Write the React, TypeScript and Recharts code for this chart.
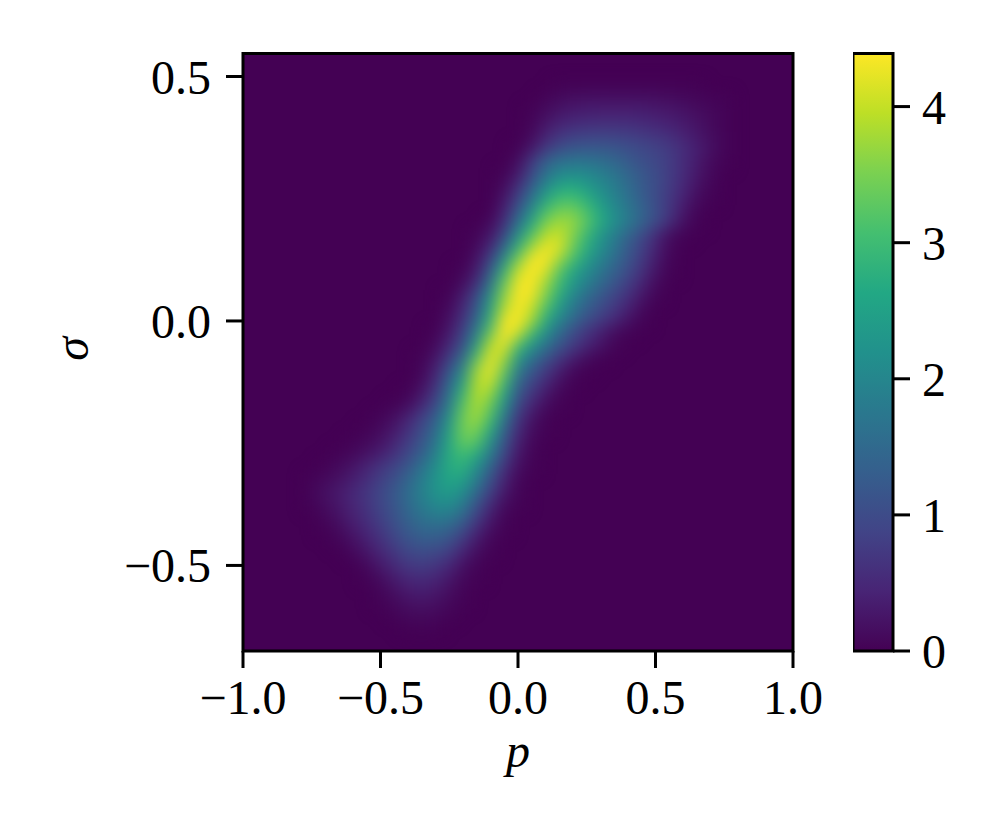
import React from "react";
import { ScatterChart, Scatter, XAxis, YAxis, ReferenceArea, BarChart, Bar } from "recharts";

const xTicks = [-1, -0.5, 0, 0.5, 1];
const yTicks = [-0.5, 0, 0.5];
const barTicks = [0, 1, 2, 3, 4];
const barTop = 4.39;
const viridis = ["#440154", "#482475", "#414487", "#355f8d", "#2a788e", "#21918c", "#22a884", "#44bf70", "#7ad151", "#bddf26", "#fde725"];

const rowSigma = [0.475, 0.45, 0.425, 0.4, 0.375, 0.35, 0.325, 0.3, 0.275, 0.25, 0.225, 0.2, 0.175, 0.15, 0.125, 0.1, 0.075, 0.05, 0.025, 0, -0.025, -0.05, -0.075, -0.1, -0.125, -0.15, -0.175, -0.2, -0.225, -0.25, -0.275, -0.3, -0.325, -0.35, -0.375, -0.4, -0.425, -0.45, -0.475, -0.5, -0.525, -0.55, -0.575, -0.6, -0.625];
const rowStartP = [0.15, 0.1, 0.05, 0.05, 0.05, 0, 0, -0.05, -0.05, -0.05, -0.05, -0.1, -0.15, -0.15, -0.15, -0.2, -0.2, -0.25, -0.25, -0.25, -0.3, -0.3, -0.35, -0.35, -0.35, -0.4, -0.45, -0.5, -0.55, -0.6, -0.65, -0.7, -0.75, -0.75, -0.75, -0.7, -0.7, -0.65, -0.6, -0.55, -0.55, -0.5, -0.5, -0.45, -0.4];
const densityRows = [
  [0.02, 0.04, 0.05, 0.05, 0.05, 0.05, 0.05, 0.05, 0.04, 0.03, 0.02],
  [0.06, 0.14, 0.2, 0.22, 0.22, 0.22, 0.22, 0.22, 0.2, 0.17, 0.13, 0.08, 0.05, 0.02],
  [0.02, 0.14, 0.26, 0.34, 0.38, 0.4, 0.4, 0.4, 0.38, 0.34, 0.3, 0.24, 0.17, 0.1, 0.04],
  [0.05, 0.28, 0.45, 0.55, 0.6, 0.62, 0.62, 0.6, 0.55, 0.5, 0.42, 0.33, 0.22, 0.12, 0.04],
  [0.12, 0.45, 0.72, 0.85, 0.9, 0.92, 0.9, 0.85, 0.78, 0.7, 0.6, 0.45, 0.3, 0.16, 0.05],
  [0.02, 0.3, 0.75, 1.05, 1.2, 1.25, 1.25, 1.2, 1.08, 0.98, 0.88, 0.75, 0.58, 0.38, 0.2, 0.05],
  [0.15, 0.75, 1.35, 1.65, 1.7, 1.7, 1.6, 1.45, 1.25, 1.05, 0.95, 0.78, 0.55, 0.32, 0.12, 0.02],
  [0.03, 0.3, 0.95, 1.6, 2.0, 2.1, 2.05, 1.9, 1.7, 1.45, 1.2, 1.02, 0.78, 0.55, 0.3, 0.1],
  [0.12, 0.6, 1.3, 2.05, 2.55, 2.65, 2.4, 2.1, 1.85, 1.55, 1.25, 1.02, 0.78, 0.5, 0.22, 0.05],
  [0.25, 0.85, 1.65, 2.5, 3.0, 3.05, 2.75, 2.3, 1.95, 1.65, 1.3, 1.0, 0.72, 0.42, 0.15, 0.02],
  [0.42, 1.2, 2.1, 3.05, 3.45, 3.45, 3.1, 2.6, 2.1, 1.75, 1.4, 1.08, 0.7, 0.3, 0.05],
  [0.1, 0.6, 1.6, 2.6, 3.5, 3.8, 3.7, 3.25, 2.7, 2.2, 1.8, 1.4, 1.0, 0.6, 0.2, 0.02],
  [0.05, 0.25, 0.95, 2.15, 3.15, 3.9, 4.05, 3.55, 2.9, 2.3, 1.85, 1.4, 1.0, 0.55, 0.15, 0.02],
  [0.1, 0.5, 1.5, 2.75, 3.75, 4.3, 4.2, 3.4, 2.75, 2.2, 1.75, 1.25, 0.85, 0.45, 0.1],
  [0.22, 0.85, 2.15, 3.45, 4.35, 4.39, 3.75, 3.05, 2.45, 1.95, 1.55, 1.15, 0.75, 0.35, 0.05],
  [0.05, 0.35, 1.3, 2.8, 4.05, 4.39, 4.15, 3.2, 2.55, 2.1, 1.7, 1.35, 1.0, 0.62, 0.25, 0.03],
  [0.15, 0.6, 1.7, 3.3, 4.3, 4.39, 3.75, 3.0, 2.35, 1.9, 1.5, 1.15, 0.8, 0.45, 0.12],
  [0.02, 0.35, 1.0, 2.2, 3.6, 4.39, 4.3, 3.55, 2.7, 2.0, 1.55, 1.2, 0.9, 0.6, 0.28, 0.05],
  [0.1, 0.5, 1.2, 2.5, 3.85, 4.39, 4.0, 3.15, 2.35, 1.75, 1.3, 1.0, 0.72, 0.42, 0.12],
  [0.2, 0.65, 1.5, 2.8, 4.3, 4.39, 3.8, 2.7, 2.0, 1.45, 1.05, 0.75, 0.5, 0.22, 0.04],
  [0.03, 0.3, 0.85, 1.9, 3.3, 4.39, 4.1, 3.0, 2.2, 1.5, 1.0, 0.65, 0.38, 0.12, 0.02],
  [0.1, 0.5, 1.05, 2.4, 3.9, 4.3, 3.1, 2.3, 1.7, 1.2, 0.8, 0.5, 0.25, 0.06],
  [0.02, 0.22, 0.75, 1.5, 3.1, 4.25, 3.8, 2.4, 1.7, 1.2, 0.75, 0.4, 0.15, 0.03],
  [0.05, 0.4, 1.1, 2.0, 3.7, 4.3, 3.4, 1.9, 1.25, 0.8, 0.4, 0.1, 0.01],
  [0.12, 0.55, 1.4, 2.4, 3.85, 4.1, 3.0, 1.5, 0.95, 0.55, 0.2, 0.03],
  [0.03, 0.28, 0.75, 1.65, 2.85, 3.95, 3.7, 2.6, 1.2, 0.7, 0.3, 0.06],
  [0.04, 0.14, 0.5, 1.0, 1.85, 3.2, 3.85, 3.35, 2.2, 0.95, 0.45, 0.14, 0.02],
  [0.05, 0.18, 0.45, 0.85, 1.3, 2.2, 3.4, 3.8, 3.05, 1.75, 0.7, 0.25, 0.03],
  [0.02, 0.12, 0.3, 0.6, 1.0, 1.5, 2.45, 3.45, 3.5, 2.65, 1.4, 0.55, 0.15, 0.02],
  [0.03, 0.1, 0.22, 0.45, 0.8, 1.15, 1.7, 2.6, 3.35, 3.2, 2.1, 1.15, 0.4, 0.08],
  [0.02, 0.1, 0.22, 0.38, 0.65, 0.95, 1.35, 1.9, 2.7, 3.0, 2.65, 1.8, 0.95, 0.28, 0.04],
  [0.03, 0.12, 0.25, 0.45, 0.7, 0.9, 1.2, 1.65, 2.15, 2.7, 2.8, 2.15, 1.4, 0.65, 0.18, 0.02],
  [0.02, 0.1, 0.2, 0.35, 0.55, 0.8, 1.05, 1.4, 1.8, 2.25, 2.6, 2.5, 1.85, 1.1, 0.45, 0.08],
  [0.05, 0.2, 0.32, 0.5, 0.7, 0.95, 1.2, 1.55, 1.9, 2.25, 2.4, 2.15, 1.5, 0.85, 0.3, 0.05],
  [0.03, 0.15, 0.28, 0.45, 0.65, 0.9, 1.15, 1.5, 1.8, 2.05, 2.15, 1.8, 1.15, 0.55, 0.15, 0.02],
  [0.08, 0.22, 0.4, 0.6, 0.85, 1.1, 1.4, 1.65, 1.8, 1.8, 1.45, 0.85, 0.35, 0.05],
  [0.03, 0.12, 0.3, 0.5, 0.72, 1.0, 1.25, 1.45, 1.5, 1.4, 1.05, 0.55, 0.18, 0.02],
  [0.05, 0.18, 0.38, 0.6, 0.85, 1.1, 1.25, 1.25, 1.1, 0.7, 0.3, 0.06],
  [0.08, 0.25, 0.45, 0.68, 0.9, 0.98, 0.95, 0.78, 0.42, 0.15, 0.02],
  [0.1, 0.3, 0.52, 0.72, 0.78, 0.7, 0.5, 0.2, 0.04],
  [0.03, 0.15, 0.35, 0.5, 0.55, 0.48, 0.3, 0.1, 0.02],
  [0.05, 0.2, 0.33, 0.38, 0.32, 0.17, 0.04],
  [0.02, 0.1, 0.2, 0.24, 0.2, 0.1, 0.02],
  [0.04, 0.1, 0.12, 0.1, 0.04],
  [0.02, 0.04, 0.02],
];
const barData = [{ name: "density", top: barTop }];

const pStep = 0.05;
const cells = densityRows.flatMap((row, r) =>
  row.map((v, c) => ({ p: rowStartP[r] + c * pStep, s: rowSigma[r], v }))
);

function hex(c: string) {
  return [1, 3, 5].map((i) => parseInt(c.slice(i, i + 2), 16));
}
function colorOf(v: number) {
  const t = Math.min(1, Math.max(0, v / barTop)) * (viridis.length - 1);
  const i = Math.min(viridis.length - 2, Math.floor(t));
  const a = hex(viridis[i]);
  const b = hex(viridis[i + 1]);
  const f = t - i;
  const m = a.map((x, k) => Math.round(x + (b[k] - x) * f));
  return `rgb(${m[0]},${m[1]},${m[2]})`;
}

const font = "'Liberation Serif', serif";
const tickStyle = { fontFamily: font, fontSize: 48, fill: "#000" };
const tickLine = { stroke: "#000", strokeWidth: 3 };
const fmt = (v: number) => {
  const s = Math.abs(v).toFixed(1);
  return v < 0 ? "\u2212" + s : s;
};

const CELL_W = 14.3;
const CELL_H = 12.9;
const HeatCell = (props: any) => (
  <rect x={props.cx - CELL_W / 2} y={props.cy - CELL_H / 2} width={CELL_W} height={CELL_H} fill={colorOf(props.payload.v)} />
);

export default function App() {
  return (
    <div style={{ position: "absolute", left: 0, top: 0, width: 996, height: 833, background: "#fff", overflow: "hidden" }}>
      <style>{`.recharts-scatter{filter:url(#heatBlur);clip-path:url(#plotClip)}`}</style>
      <svg width={0} height={0} style={{ position: "absolute" }}>
        <defs>
          <filter id="heatBlur" x="-15%" y="-15%" width="130%" height="130%" colorInterpolationFilters="sRGB">
            <feGaussianBlur stdDeviation="8 8" />
          </filter>
          <clipPath id="plotClip" clipPathUnits="userSpaceOnUse">
            <rect x={243} y={53.5} width={550} height={597.5} />
          </clipPath>
          <linearGradient id="viridisBar" x1="0" y1="1" x2="0" y2="0">
            {viridis.map((c, i) => (
              <stop key={c} offset={`${(i / (viridis.length - 1)) * 100}%`} stopColor={c} />
            ))}
          </linearGradient>
        </defs>
      </svg>
      <div style={{ position: "absolute", left: 0, top: 0 }}>
        <ScatterChart width={996} height={833} margin={{ left: 143, right: 203, top: 53.5, bottom: 82 }}>
          <XAxis
            type="number"
            dataKey="p"
            domain={[-1, 1]}
            ticks={xTicks}
            tickFormatter={fmt}
            height={100}
            tick={tickStyle}
            tickLine={tickLine}
            tickSize={17}
            tickMargin={12}
            axisLine={false}
            label={{ value: "p", position: "insideBottom", offset: 0, dy: 16, style: { ...tickStyle, fontStyle: "italic" } }}
          />
          <YAxis
            type="number"
            dataKey="s"
            domain={[-0.675, 0.547]}
            ticks={yTicks}
            tickFormatter={fmt}
            width={100}
            tick={tickStyle}
            tickLine={tickLine}
            tickSize={17}
            tickMargin={15}
            axisLine={false}
          />
          <ReferenceArea x1={-1} x2={1} y1={-0.675} y2={0.547} fill="#440154" fillOpacity={1} stroke="none" />
          <Scatter data={cells} shape={HeatCell} isAnimationActive={false} />
          <ReferenceArea x1={-1} x2={1} y1={-0.675} y2={0.547} fill="none" stroke="#000" strokeWidth={3} />
        </ScatterChart>
      </div>
      <div style={{ position: "absolute", left: 852.5, top: 0 }}>
        <BarChart width={142} height={833} data={barData} barCategoryGap={0} margin={{ left: 0, right: 0, top: 53.5, bottom: 182 }}>
          <XAxis dataKey="name" hide />
          <YAxis
            orientation="right"
            domain={[0, barTop]}
            ticks={barTicks}
            width={102}
            tick={tickStyle}
            tickLine={tickLine}
            tickSize={17}
            tickMargin={12}
            axisLine={false}
          />
          <Bar dataKey="top" fill="url(#viridisBar)" stroke="#000" strokeWidth={3} isAnimationActive={false} />
        </BarChart>
      </div>
      <div style={{ position: "absolute", left: 0, top: 0, pointerEvents: "none" }}>
        <svg width={996} height={833}>
          <text x={71} y={349} textAnchor="middle" dominantBaseline="central" transform="rotate(-90 71 349)" style={{ ...tickStyle, fontStyle: "italic" }}>
            σ
          </text>
        </svg>
      </div>
    </div>
  );
}
